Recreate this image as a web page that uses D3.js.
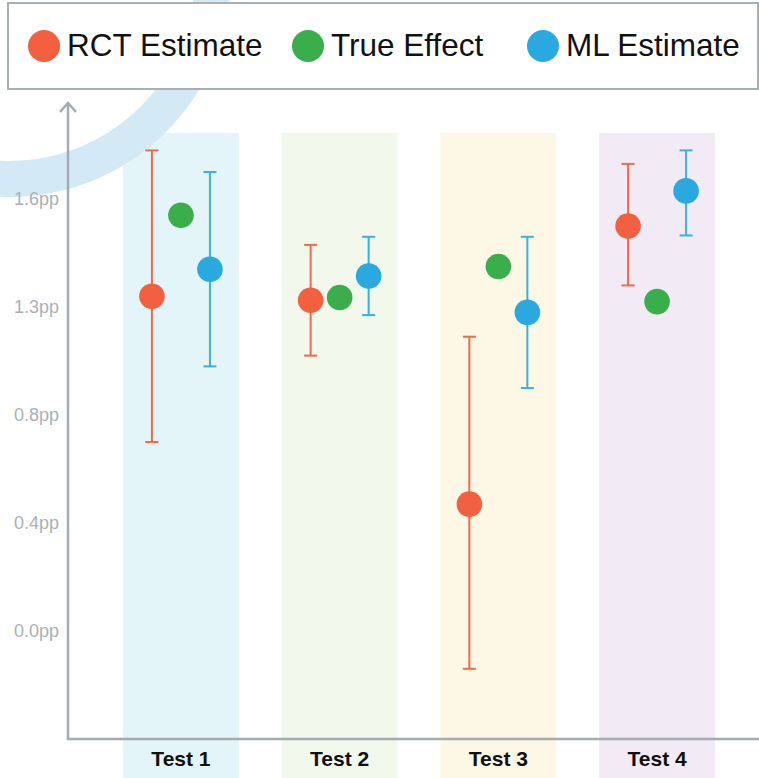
<!DOCTYPE html>
<html>
<head>
<meta charset="utf-8">
<script src="https://cdn.jsdelivr.net/npm/d3@7"></script>
<style>
  body { margin: 0; background: #fff; }
  svg { display: block; font-family: "Liberation Sans", Arial, sans-serif; }
</style>
</head>
<body>
<svg width="759" height="778"></svg>
<script>
// data
const categories = ["Test 1", "Test 2", "Test 3", "Test 4"];
const series = ["RCT Estimate", "True Effect", "ML Estimate"];

const rctEstimate = [1.24, 1.225, 0.47, 1.50];
const rctLow = [0.70, 1.02, -0.14, 1.28];
const rctHigh = [1.78, 1.43, 1.09, 1.73];

const trueEffect = [1.54, 1.235, 1.35, 1.22];

const mlEstimate = [1.34, 1.315, 1.18, 1.63];
const mlLow = [0.98, 1.17, 0.90, 1.465];
const mlHigh = [1.70, 1.46, 1.46, 1.78];

const tickValues = [0, 0.4, 0.8, 1.2, 1.6];
const tickLabels = ["0.0pp", "0.4pp", "0.8pp", "1.3pp", "1.6pp"];

const colors = { "RCT Estimate": "#f35f3f", "True Effect": "#39ae4a", "ML Estimate": "#2aa9e1" };
const barColors = { "RCT Estimate": "#f06a4c", "ML Estimate": "#3ab0e4" };
const bandColors = ["#e3f5f8", "#f2f8eb", "#fdf7e6", "#f2eaf4"];

// rows per category / series
const points = [];
categories.forEach((c, i) => {
    points.push({ cat: c, s: "RCT Estimate", v: rctEstimate[i], lo: rctLow[i], hi: rctHigh[i] });
    points.push({ cat: c, s: "True Effect", v: trueEffect[i] });
    points.push({ cat: c, s: "ML Estimate", v: mlEstimate[i], lo: mlLow[i], hi: mlHigh[i] });
});

const svg = d3.select("svg");
const W = 759, H = 778;
const axisX = 68;

const x = d3.scaleBand()
    .domain(categories)
    .range([123, 715])
    .paddingInner(0.27)
    .paddingOuter(0);

const xs = d3.scalePoint()
    .domain(series)
    .range([-29, 29]);

const y = d3.scaleLinear()
    .domain([-0.4, 1.6])
    .range([739, 199]);

// category bands
svg.append("g")
    .selectAll("rect")
    .data(categories)
    .enter().append("rect")
    .attr("x", d => x(d))
    .attr("y", 133)
    .attr("width", x.bandwidth())
    .attr("height", H - 133)
    .attr("fill", (d, i) => bandColors[i]);

// decorative ring in top-left
svg.append("circle")
    .attr("cx", 9)
    .attr("cy", -25)
    .attr("r", 204)
    .attr("fill", "none")
    .attr("stroke", "#d3eaf6")
    .attr("stroke-width", 36);

// y axis labels
const yAxis = svg.append("g")
    .attr("transform", `translate(${axisX},0)`)
    .call(d3.axisLeft(y)
        .tickValues(tickValues)
        .tickFormat((d, i) => tickLabels[i])
        .tickSize(0)
        .tickPadding(9));
yAxis.select(".domain").remove();
yAxis.selectAll("text")
    .attr("fill", "#a9b1b6")
    .style("font-size", "18px")
    .style("font-family", "'Liberation Sans', Arial, sans-serif");

// x axis labels
const xAxis = svg.append("g")
    .attr("transform", `translate(0,${y(-0.4)})`)
    .call(d3.axisBottom(x).tickSize(0).tickPadding(12));
xAxis.select(".domain").remove();
xAxis.selectAll("text")
    .attr("fill", "#111")
    .style("font-size", "21px")
    .style("font-weight", "bold")
    .style("font-family", "'Liberation Sans', Arial, sans-serif");

// axis lines
const axisColor = "#a4acb1";
svg.append("line")
    .attr("x1", axisX).attr("x2", axisX)
    .attr("y1", y(-0.4)).attr("y2", 103)
    .attr("stroke", axisColor).attr("stroke-width", 2.5);
svg.append("path")
    .attr("d", `M${axisX - 8},${112}L${axisX},${103}L${axisX + 8},${112}`)
    .attr("fill", "none")
    .attr("stroke", axisColor).attr("stroke-width", 2.5);
svg.append("line")
    .attr("x1", axisX - 1.25).attr("x2", W)
    .attr("y1", y(-0.4)).attr("y2", y(-0.4))
    .attr("stroke", axisColor).attr("stroke-width", 2.5);

// error bars
const withErr = points.filter(d => d.lo !== undefined);
const cx = d => x(d.cat) + x.bandwidth() / 2 + xs(d.s);
const eb = svg.append("g")
    .selectAll("g")
    .data(withErr)
    .enter().append("g")
    .attr("stroke", d => barColors[d.s])
    .attr("stroke-width", 2);
eb.append("line")
    .attr("x1", cx).attr("x2", cx)
    .attr("y1", d => y(d.lo)).attr("y2", d => y(d.hi));
eb.append("line")
    .attr("x1", d => cx(d) - 6.5).attr("x2", d => cx(d) + 6.5)
    .attr("y1", d => y(d.hi)).attr("y2", d => y(d.hi));
eb.append("line")
    .attr("x1", d => cx(d) - 6.5).attr("x2", d => cx(d) + 6.5)
    .attr("y1", d => y(d.lo)).attr("y2", d => y(d.lo));

// points
svg.append("g")
    .selectAll("circle")
    .data(points)
    .enter().append("circle")
    .attr("cx", cx)
    .attr("cy", d => y(d.v))
    .attr("r", 12.8)
    .attr("fill", d => colors[d.s]);

// legend
const legendX = [44, 308, 543];
const legend = svg.append("g");
legend.append("rect")
    .attr("x", 8).attr("y", 3)
    .attr("width", 750).attr("height", 86)
    .attr("fill", "#fff")
    .attr("stroke", "#a9b0b4")
    .attr("stroke-width", 2);
const li = legend.selectAll(".item")
    .data(series)
    .enter().append("g")
    .attr("class", "item")
    .attr("transform", (d, i) => `translate(${legendX[i]},46)`);
li.append("circle")
    .attr("r", 16)
    .attr("fill", d => colors[d]);
li.append("text")
    .attr("x", 23)
    .attr("y", 10)
    .style("font-size", "31.5px")
    .attr("fill", "#111")
    .text(d => d);
</script>
</body>
</html>
